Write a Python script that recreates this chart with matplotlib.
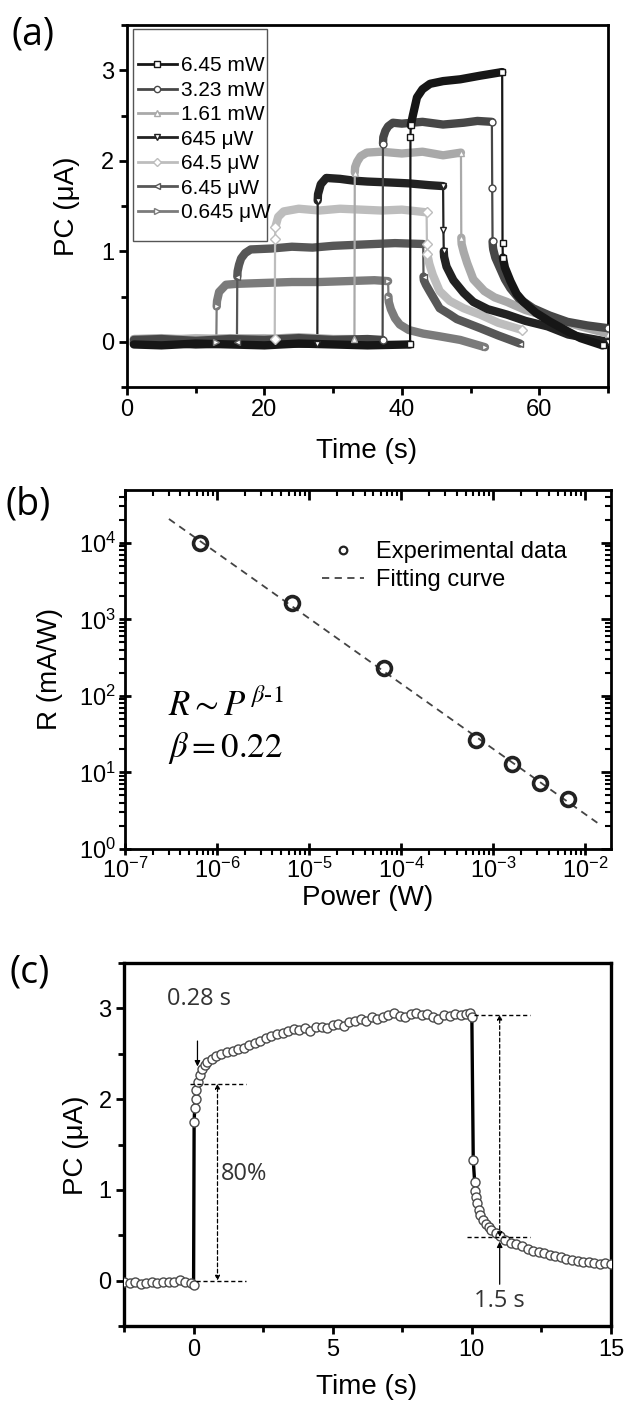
import numpy as np
import matplotlib
matplotlib.use('Agg')
import matplotlib.pyplot as plt
from matplotlib.lines import Line2D
from matplotlib.patches import Rectangle
from matplotlib.ticker import MultipleLocator, LogLocator, NullFormatter

plt.rcParams['font.family'] = ['Liberation Sans', 'DejaVu Sans']
plt.rcParams['mathtext.fontset'] = 'custom'
plt.rcParams['mathtext.rm'] = 'Liberation Sans'
plt.rcParams['mathtext.it'] = 'Liberation Sans:italic'

# ---------------- panel (a): photocurrent vs time for several powers ----------------
labels_a = ['6.45 mW', '3.23 mW', '1.61 mW', '645 μW', '64.5 μW', '6.45 μW', '0.645 μW']

t_6p45mW = [1, 5, 10, 15, 20, 25, 30, 35, 41.2, 41.25, 41.3, 41.6, 42.2, 43.0, 44.1, 46.0,
            48.5, 51.4, 54.6, 54.65, 54.7, 55.0, 55.8, 56.7, 57.7, 59.5, 61.6, 64.0, 66.0, 69.2]
pc_6p45mW = [-0.03, -0.04, -0.02, -0.03, -0.04, -0.02, -0.03, -0.04, -0.03, 2.26, 2.39, 2.5,
             2.7, 2.79, 2.85, 2.88, 2.9, 2.94, 2.98, 1.09, 0.93, 0.82, 0.67, 0.53, 0.44, 0.32,
             0.22, 0.12, 0.04, -0.04]

t_3p23mW = [1, 5, 10, 15, 20, 25, 30, 35, 37.2, 37.25, 37.3, 37.6, 38.0, 38.7, 40, 43, 46, 49,
            51, 53.1, 53.15, 53.2, 53.25, 53.3, 53.6, 54.3, 55.0, 55.8, 57.0, 59.1, 61.5, 64.1,
            67.0, 70.0]
pc_3p23mW = [0.02, 0.03, 0.01, 0.03, 0.02, 0.04, 0.02, 0.03, 0.02, 2.19, 2.26, 2.33, 2.38, 2.42,
             2.41, 2.43, 2.40, 2.42, 2.44, 2.43, 1.70, 1.11, 1.05, 1.02, 0.93, 0.81, 0.69, 0.59,
             0.48, 0.37, 0.29, 0.22, 0.18, 0.15]

t_1p61mW = [1, 5, 10, 15, 20, 25, 30, 33.1, 33.15, 33.2, 33.5, 34.0, 34.9, 37, 40, 43, 46, 48.6,
            48.65, 48.7, 49.0, 49.5, 50.4, 52.0, 53.5, 55.3, 58.0, 62.0, 66.0, 70.0]
pc_1p61mW = [0.03, 0.04, 0.02, 0.04, 0.03, 0.05, 0.03, 0.03, 1.87, 1.93, 1.99, 2.05, 2.09, 2.10,
             2.08, 2.10, 2.06, 2.09, 1.15, 1.08, 0.99, 0.87, 0.69, 0.56, 0.49, 0.44, 0.35, 0.26,
             0.17, 0.09]

t_645uW = [1, 5, 10, 15, 20, 25, 27.7, 27.75, 27.8, 28.2, 29.0, 31.0, 33, 35, 38.2, 41, 44, 46.0,
           46.05, 46.1, 46.15, 46.5, 47.5, 49.0, 50.4, 52.5, 55.3, 58.0, 61.2, 64.2, 67.0, 70.0]
pc_645uW = [-0.02, -0.01, -0.03, -0.02, -0.01, -0.02, -0.02, 1.56, 1.63, 1.74, 1.81, 1.80, 1.78,
            1.77, 1.76, 1.75, 1.73, 1.72, 1.24, 1.0, 0.94, 0.83, 0.68, 0.54, 0.44, 0.36, 0.3,
            0.23, 0.17, 0.08, 0.04, 0.0]

t_64p5uW = [1, 5, 10, 15, 20, 21.5, 21.55, 21.6, 22.0, 22.8, 25, 28, 31, 34, 37, 40, 43.6, 43.65,
            43.7, 44.0, 44.5, 45.5, 47.0, 49.0, 51.4, 54.0, 57.5]
pc_64p5uW = [0.03, 0.02, 0.04, 0.03, 0.04, 0.03, 1.14, 1.27, 1.38, 1.44, 1.47, 1.45, 1.47, 1.46,
             1.45, 1.46, 1.43, 1.08, 0.97, 0.86, 0.74, 0.56, 0.45, 0.37, 0.30, 0.21, 0.13]

t_6p45uW = [1, 5, 10, 16.0, 16.05, 16.1, 16.3, 16.6, 17.2, 18, 21, 24, 27, 30, 33, 36, 39, 43.1,
            43.15, 43.2, 43.5, 44.1, 45.5, 47.0, 48.0, 51.4, 54.0, 57.2]
pc_6p45uW = [0.0, -0.01, 0.01, 0.0, 0.72, 0.78, 0.85, 0.92, 0.98, 1.02, 1.03, 1.05, 1.04, 1.06,
             1.07, 1.08, 1.09, 1.08, 0.72, 0.68, 0.63, 0.55, 0.37, 0.30, 0.25, 0.15, 0.07, -0.02]

t_0p645uW = [1, 5, 10, 13.0, 13.05, 13.1, 13.4, 14.4, 16, 20, 24, 28, 32, 36, 38.0, 38.05, 38.1,
             38.4, 39.0, 39.7, 41.0, 43.1, 45.5, 48.5, 52.1]
pc_0p645uW = [0.0, 0.01, -0.01, 0.0, 0.39, 0.45, 0.55, 0.63, 0.64, 0.65, 0.66, 0.66, 0.67, 0.68,
              0.67, 0.50, 0.44, 0.36, 0.26, 0.19, 0.13, 0.09, 0.06, 0.02, -0.06]

# ---------------- panel (b): responsivity vs power ----------------
power_w = [6.45e-7, 6.45e-6, 6.45e-5, 6.45e-4, 1.61e-3, 3.23e-3, 6.45e-3]
resp_mAW = [1.0e4, 1.65e3, 233, 26.6, 12.9, 7.3, 4.5]
fit_power_w = [3.0e-7, 1.35e-2]
fit_resp_mAW = [2.05e4, 2.2]

# ---------------- panel (c): single on/off cycle ----------------
t_c = [-2.5, -2.3, -2.1, -1.9, -1.7, -1.5, -1.3, -1.1, -0.9, -0.7, -0.5, -0.3, -0.1, 0.0,
       0.02, 0.04, 0.07, 0.1, 0.15, 0.22, 0.3, 0.4, 0.5, 0.65, 0.8, 1.0, 1.2, 1.4, 1.6, 1.8,
       2.0, 2.2, 2.4, 2.6, 2.8, 3.0, 3.2, 3.4, 3.6, 3.8, 4.0, 4.2, 4.4, 4.6, 4.8, 5.0, 5.2, 5.4,
       5.6, 5.8, 6.0, 6.2, 6.4, 6.6, 6.8, 7.0, 7.2, 7.4, 7.6, 7.8, 8.0, 8.2, 8.4, 8.6, 8.8, 9.0,
       9.2, 9.4, 9.6, 9.8, 9.95, 10.0, 10.05, 10.1, 10.13, 10.16, 10.2, 10.25, 10.3, 10.4, 10.5,
       10.6, 10.7, 10.85, 11.0, 11.2, 11.4, 11.6, 11.8, 12.0, 12.2, 12.4, 12.6, 12.8, 13.0, 13.2,
       13.4, 13.6, 13.8, 14.0, 14.2, 14.4, 14.6, 14.8, 15.0]
pc_c = [-0.02, -0.03, -0.02, -0.04, -0.03, -0.02, -0.03, -0.01, -0.02, -0.01, 0.01, -0.02, -0.03,
        -0.05, 1.75, 1.90, 2.00, 2.10, 2.19, 2.27, 2.33, 2.38, 2.41, 2.44, 2.47, 2.50, 2.52, 2.53,
        2.55, 2.56, 2.60, 2.62, 2.64, 2.67, 2.70, 2.72, 2.73, 2.75, 2.77, 2.76, 2.78, 2.75, 2.79,
        2.80, 2.78, 2.82, 2.83, 2.81, 2.85, 2.86, 2.88, 2.86, 2.90, 2.88, 2.91, 2.93, 2.95, 2.92,
        2.90, 2.94, 2.95, 2.93, 2.94, 2.91, 2.88, 2.93, 2.92, 2.94, 2.93, 2.94, 2.95, 2.90, 1.33,
        1.09, 0.99, 0.92, 0.85, 0.78, 0.72, 0.67, 0.62, 0.59, 0.56, 0.52, 0.49, 0.45, 0.42, 0.40,
        0.38, 0.35, 0.33, 0.31, 0.30, 0.28, 0.27, 0.26, 0.24, 0.23, 0.22, 0.21, 0.20, 0.19, 0.18,
        0.19, 0.18]
rise_base, rise_80 = 0.0, 2.17
fall_top, fall_80 = 2.93, 0.48
rise_time_label, fall_time_label = '0.28 s', '1.5 s'

# ---------------- layout helpers ----------------
W, H = 626, 1404
fig = plt.figure(figsize=(W / 100, H / 100), dpi=100)

TICK_FS = 17
LABEL_FS = 20
PANEL_FS = 27
PANEL_FONT = ['Open Sans', 'DejaVu Sans']


def px_axes(left, top, right, bottom):
    return fig.add_axes([left / W, (H - bottom) / H, (right - left) / W, (bottom - top) / H])


def px_text(x, y, s, **kw):
    return fig.text(x / W, (H - y) / H, s, **kw)


def style_spines(ax, lw=2.0):
    for sp in ax.spines.values():
        sp.set_linewidth(lw)


def draw_trace(ax, t, v, color, marker):
    t = np.asarray(t, float)
    v = np.asarray(v, float)
    jump = np.abs(np.diff(v) / np.diff(t)) > 2.0
    # thin line through every point (shows the fast switching edges)
    ax.plot(t, v, color=color, lw=1.6, zorder=2)
    # thick noisy band for the slow parts, broken at the switching edges
    tb, vb = [], []
    for i in range(len(t)):
        tb.append(t[i])
        vb.append(v[i])
        if i < len(jump) and jump[i]:
            tb.append(np.nan)
            vb.append(np.nan)
    ax.plot(tb, vb, color=color, lw=6, solid_capstyle='round', solid_joinstyle='round', zorder=2)
    idx = sorted(set(np.where(jump)[0]) | set(np.where(jump)[0] + 1) | {len(t) - 1})
    ax.plot(t[idx], v[idx], ls='none', marker=marker, ms=5, mfc='white', mec=color, mew=1.0,
            zorder=3)


# ---------------- panel (a) ----------------
ax_a = px_axes(127, 25, 608, 387)
style_spines(ax_a)
traces_a = [(t_6p45mW, pc_6p45mW), (t_3p23mW, pc_3p23mW), (t_1p61mW, pc_1p61mW),
            (t_645uW, pc_645uW), (t_64p5uW, pc_64p5uW), (t_6p45uW, pc_6p45uW),
            (t_0p645uW, pc_0p645uW)]
colors_a = ['#161616', '#474747', '#a9a9a9', '#222222', '#bdbdbd', '#575757', '#7b7b7b']
markers_a = ['s', 'o', '^', 'v', 'D', '<', '>']
for (t, v), c, m in list(zip(traces_a, colors_a, markers_a))[::-1]:
    draw_trace(ax_a, t, v, c, m)

ax_a.set_xlim(0, 70)
ax_a.set_ylim(-0.5, 3.5)
ax_a.xaxis.set_major_locator(MultipleLocator(20))
ax_a.xaxis.set_minor_locator(MultipleLocator(10))
ax_a.yaxis.set_major_locator(MultipleLocator(1))
ax_a.yaxis.set_minor_locator(MultipleLocator(0.5))
ax_a.tick_params(which='major', direction='out', length=6, width=2, labelsize=TICK_FS, pad=3)
ax_a.tick_params(which='minor', direction='out', length=4, width=2)

handles = [Line2D([], [], color=c, lw=2, marker=m, ms=4.5, mfc='white', mec=c, mew=1)
           for c, m in zip(colors_a, markers_a)]
ax_a.add_patch(Rectangle((0.012, 0.403), 0.279, 0.586, transform=ax_a.transAxes,
                         facecolor='white', edgecolor='#555555', lw=1.0, zorder=5))
leg = ax_a.legend(handles, labels_a, loc='upper left', bbox_to_anchor=(0.022, 0.913),
                  frameon=False, fontsize=15, handlelength=1.9, handletextpad=0.2,
                  labelspacing=0.26, borderpad=0, borderaxespad=0)
leg.set_zorder(6)

px_text(67, 206, 'PC (μA)', rotation=90, ha='center', va='center', fontsize=LABEL_FS)
px_text(367, 451, 'Time (s)', ha='center', va='center', fontsize=LABEL_FS)
px_text(33, 35, '(a)', ha='center', va='center', fontsize=PANEL_FS, family=PANEL_FONT)

# ---------------- panel (b) ----------------
ax_b = px_axes(125, 490, 611, 849)
style_spines(ax_b)
ax_b.set_xscale('log')
ax_b.set_yscale('log')
ax_b.plot(fit_power_w, fit_resp_mAW, color='#444444', lw=1.3, ls=(0, (4, 3)), zorder=2)
ax_b.plot(power_w, resp_mAW, ls='none', marker='o', ms=10, mfc='none', mec='#222222', mew=2.6,
          zorder=3)
ax_b.set_xlim(1e-7, 1.9e-2)
ax_b.set_ylim(1, 4.9e4)
ax_b.xaxis.set_major_locator(LogLocator(base=10, numticks=10))
ax_b.yaxis.set_major_locator(LogLocator(base=10, numticks=10))
ax_b.xaxis.set_minor_locator(LogLocator(base=10, subs=np.arange(2, 10), numticks=20))
ax_b.yaxis.set_minor_locator(LogLocator(base=10, subs=np.arange(2, 10), numticks=20))
ax_b.xaxis.set_minor_formatter(NullFormatter())
ax_b.yaxis.set_minor_formatter(NullFormatter())
ax_b.tick_params(which='major', direction='inout', length=9, width=2, labelsize=TICK_FS, pad=2)
ax_b.tick_params(which='minor', direction='out', length=4, width=1.5)

for twin in (ax_b.twinx(), ax_b.twiny()):
    twin.set_xscale('log')
    twin.set_yscale('log')
    twin.set_xlim(ax_b.get_xlim())
    twin.set_ylim(ax_b.get_ylim())
    twin.xaxis.set_minor_locator(LogLocator(base=10, subs=np.arange(2, 10), numticks=20))
    twin.yaxis.set_minor_locator(LogLocator(base=10, subs=np.arange(2, 10), numticks=20))
    twin.tick_params(which='major', direction='in', length=7, width=2, labelright=False,
                     labeltop=False, labelleft=False, labelbottom=False)
    twin.tick_params(which='minor', direction='in', length=4, width=1.5)
    for sp in twin.spines.values():
        sp.set_visible(False)

exp_handle = Line2D([], [], ls='none', marker='o', ms=5.5, mfc='none', mec='#222222', mew=1.6)
fit_handle = Line2D([], [], color='#444444', lw=1.3, ls=(0, (4, 3)))
ax_b.legend([exp_handle, fit_handle], ['Experimental data', 'Fitting curve'], loc='upper left',
            bbox_to_anchor=(0.405, 0.857), frameon=False, fontsize=17, handlelength=1.8,
            handletextpad=0.5, labelspacing=0.25, borderpad=0, borderaxespad=0)

ax_b.text(0.088, 0.40, r'$R \sim P^{\,\beta\text{-}1}$', transform=ax_b.transAxes, fontsize=25,
          math_fontfamily='stix', va='center', ha='left')
ax_b.text(0.088, 0.28, r'$\beta = 0.22$', transform=ax_b.transAxes, fontsize=25,
          math_fontfamily='stix', va='center', ha='left')

px_text(50, 669, 'R (mA/W)', rotation=90, ha='center', va='center', fontsize=LABEL_FS)
px_text(368, 898, 'Power (W)', ha='center', va='center', fontsize=LABEL_FS)
px_text(28, 505, '(b)', ha='center', va='center', fontsize=PANEL_FS, family=PANEL_FONT)

# ---------------- panel (c) ----------------
ax_c = px_axes(124, 963, 611, 1326)
style_spines(ax_c, 2.4)
ax_c.plot(t_c, pc_c, color='black', lw=2.4, zorder=2)
ax_c.plot(t_c, pc_c, ls='none', marker='o', ms=6.5, mfc='white', mec='#4a4a4a', mew=1.0, zorder=3)
ax_c.set_xlim(-2.5, 15)
ax_c.set_ylim(-0.5, 3.5)
ax_c.xaxis.set_major_locator(MultipleLocator(5))
ax_c.xaxis.set_minor_locator(MultipleLocator(2.5))
ax_c.yaxis.set_major_locator(MultipleLocator(1))
ax_c.yaxis.set_minor_locator(MultipleLocator(0.5))
ax_c.tick_params(which='major', direction='out', length=6, width=2, labelsize=TICK_FS, pad=3)
ax_c.tick_params(which='minor', direction='out', length=4, width=2)

dash = dict(color='black', lw=1.0, ls=(0, (3, 2)), zorder=4)
ax_c.plot([0.07, 1.87], [rise_base, rise_base], **dash)
ax_c.plot([-0.14, 1.87], [rise_80, rise_80], **dash)
ax_c.plot([10.07, 12.09], [fall_top, fall_top], **dash)
ax_c.plot([9.82, 12.1], [fall_80, fall_80], **dash)
dbl = dict(arrowstyle='<|-|>', color='black', lw=0.9, ls=(0, (3, 2)), mutation_scale=7,
           shrinkA=0, shrinkB=0)
ax_c.annotate('', xy=(0.86, rise_80), xytext=(0.86, rise_base), arrowprops=dbl, zorder=4)
ax_c.annotate('', xy=(11.0, fall_top), xytext=(11.0, fall_80), arrowprops=dbl, zorder=4)
single = dict(arrowstyle='-|>', color='black', lw=0.9, mutation_scale=8, shrinkA=0, shrinkB=0)
ax_c.annotate('', xy=(0.14, 2.36), xytext=(0.14, 2.64), arrowprops=single, zorder=4)
ax_c.annotate('', xy=(11.0, 0.43), xytext=(11.0, -0.04), arrowprops=single, zorder=4)
annot_font = dict(family=PANEL_FONT, color='#333333', fontsize=17)
ax_c.text(0.2, 3.1, rise_time_label, ha='center', va='center', **annot_font)
ax_c.text(0.98, 1.18, '80%', ha='left', va='center', **annot_font)
ax_c.text(11.0, -0.23, fall_time_label, ha='center', va='center', **annot_font)

px_text(76, 1145, 'PC (μA)', rotation=90, ha='center', va='center', fontsize=LABEL_FS)
px_text(367, 1387, 'Time (s)', ha='center', va='center', fontsize=LABEL_FS)
px_text(30, 973, '(c)', ha='center', va='center', fontsize=PANEL_FS, family=PANEL_FONT)

fig.savefig('out.png', dpi=100, facecolor='white')
